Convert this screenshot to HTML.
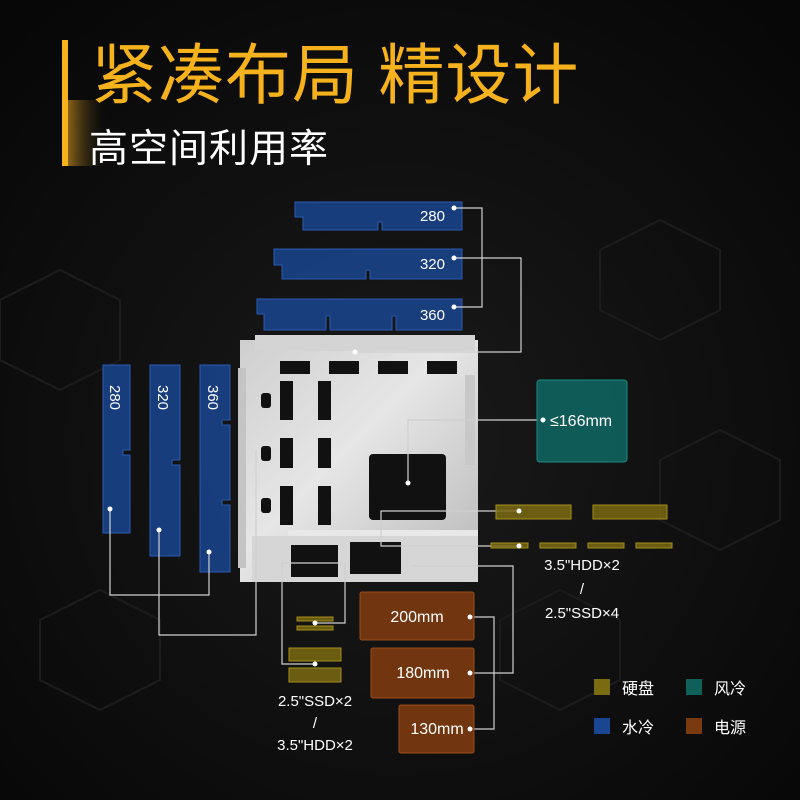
<!DOCTYPE html>
<html><head><meta charset="utf-8"><style>
html,body{margin:0;padding:0;background:#0b0b0b;}
svg{display:block}
text{font-family:"Liberation Sans","Noto Sans CJK SC",sans-serif;}
</style></head><body>
<svg width="800" height="800" viewBox="0 0 800 800" xmlns="http://www.w3.org/2000/svg">
<defs>
<radialGradient id="bg" cx="0.5" cy="0.55" r="0.7">
<stop offset="0" stop-color="#1a1a1a"/><stop offset="1" stop-color="#070707"/></radialGradient>
<linearGradient id="bar" x1="0" x2="1"><stop offset="0" stop-color="#8a6418"/><stop offset="1" stop-color="#111" stop-opacity="0"/></linearGradient>
<linearGradient id="case" x1="0" y1="0" x2="1" y2="1"><stop offset="0" stop-color="#cfcfcf"/><stop offset="0.45" stop-color="#e6e6e6"/><stop offset="1" stop-color="#b8b8b8"/></linearGradient>
</defs>
<rect width="800" height="800" fill="url(#bg)"/>
<g stroke="#1c1c1c" stroke-width="2" fill="none">
<path d="M0 300 L60 270 L120 300 L120 360 L60 390 L0 360Z M600 250 L660 220 L720 250 L720 310 L660 340 L600 310Z M660 460 L720 430 L780 460 L780 520 L720 550 L660 520Z M500 620 L560 590 L620 620 L620 680 L560 710 L500 680Z M40 620 L100 590 L160 620 L160 680 L100 710 L40 680Z"/>
</g>
<!-- title -->
<rect x="68" y="100" width="40" height="66" fill="url(#bar)"/>
<rect x="62" y="40" width="6" height="126" fill="#f6b21c"/>
<text x="91" y="98" font-size="66" fill="#f6b21c" letter-spacing="1">紧凑布局 精设计</text>
<text x="89" y="162" font-size="39" fill="#fff" letter-spacing="1">高空间利用率</text>

<!-- top radiators -->
<g fill="#1a4590" fill-opacity="0.85" stroke="#2a5ab0" stroke-width="1">
<path d="M295 202 H462 V230 H382 V222 H378 V230 H303 V217 H295Z"/>
<path d="M274 249 H462 V279 H370 V270 H366 V279 H282 V265 H274Z"/>
<path d="M257 299 H462 V330 H396 V316 H392 V330 H330 V316 H326 V330 H264 V314 H257Z"/>
</g>
<g fill="#fff" font-size="15" text-anchor="end">
<text x="445" y="221">280</text><text x="445" y="269">320</text><text x="445" y="320">360</text>
</g>

<!-- left vertical radiators -->
<g fill="#1a4590" fill-opacity="0.85" stroke="#2a5ab0" stroke-width="1">
<path d="M103 365 H130 V450 H123 V455 H130 V533 H103Z"/>
<path d="M150 365 H180 V460 H172 V465 H180 V556 H150Z"/>
<path d="M200 365 H230 V420 H222 V425 H230 V500 H222 V505 H230 V572 H200Z"/>
</g>
<g fill="#fff" font-size="15">
<text transform="translate(110 385) rotate(90)">280</text>
<text transform="translate(158 385) rotate(90)">320</text>
<text transform="translate(208 385) rotate(90)">360</text>
</g>

<!-- case -->
<rect x="240" y="340" width="238" height="242" fill="url(#case)"/>
<rect x="255" y="335" width="220" height="16" fill="#d4d4d4"/>
<rect x="238" y="368" width="8" height="200" fill="#c4c4c4"/>
<rect x="252" y="536" width="226" height="46" fill="#d6d6d6"/>
<g fill="#111">
<rect x="280" y="361" width="30" height="13"/><rect x="329" y="361" width="30" height="13"/><rect x="378" y="361" width="30" height="13"/><rect x="427" y="361" width="30" height="13"/>
<rect x="280" y="381" width="13" height="39"/><rect x="318" y="381" width="13" height="39"/>
<rect x="280" y="438" width="13" height="30"/><rect x="318" y="438" width="13" height="30"/>
<rect x="280" y="486" width="13" height="39"/><rect x="318" y="486" width="13" height="39"/>
<rect x="261" y="393" width="10" height="15" rx="3"/><rect x="261" y="446" width="10" height="15" rx="3"/><rect x="261" y="498" width="10" height="15" rx="3"/>
<rect x="369" y="454" width="77" height="66" rx="4"/>
<rect x="291" y="545" width="47" height="32"/>
<rect x="350" y="542" width="51" height="32"/>
</g>
<rect x="288" y="530" width="190" height="6" fill="#e8e8e8"/>
<rect x="465" y="375" width="10" height="90" fill="#c8c8c8"/>

<!-- connectors -->
<g stroke="#d0d0d0" stroke-width="1.2" fill="none">
<path d="M454 208 H482 V307 H454"/>
<path d="M355 352 H521 V258 H454"/>
<path d="M408 483 V420 H543"/>
<path d="M519 511 H381 V546 H519"/>
<path d="M110 509 V595 H209 V552"/>
<path d="M159 530 V635 H256 V450"/>
<path d="M315 623 H345 V563 H282 V664 H315"/>
<path d="M413 566 H513 V673 H470"/>
<path d="M470 617 H494 V729 H470"/>
</g>
<g fill="#fff">
<circle cx="454" cy="208" r="2.5"/><circle cx="454" cy="258" r="2.5"/><circle cx="454" cy="307" r="2.5"/>
<circle cx="355" cy="352" r="2.5"/><circle cx="408" cy="483" r="2.5"/>
<circle cx="110" cy="509" r="2.5"/><circle cx="159" cy="530" r="2.5"/><circle cx="209" cy="552" r="2.5"/>
</g>

<!-- fan box -->
<rect x="537" y="380" width="90" height="82" rx="3" fill="#0f5f5b" fill-opacity="0.95" stroke="#1c8a85"/>
<circle cx="543" cy="420" r="2.5" fill="#fff"/>
<text x="550" y="426" font-size="16" fill="#fff">≤166mm</text>

<!-- drives -->
<g fill="#7a6a12" fill-opacity="0.85" stroke="#a58e1c">
<rect x="496" y="505" width="75" height="14"/><rect x="593" y="505" width="74" height="14"/>
<rect x="491" y="543" width="37" height="5"/><rect x="540" y="543" width="36" height="5"/><rect x="588" y="543" width="36" height="5"/><rect x="636" y="543" width="36" height="5"/>
<rect x="297" y="617" width="36" height="4"/><rect x="297" y="626" width="36" height="4"/>
<rect x="289" y="648" width="52" height="13"/><rect x="289" y="668" width="52" height="14"/>
</g>
<g fill="#fff"><circle cx="519" cy="511" r="2.5"/><circle cx="519" cy="546" r="2.5"/><circle cx="315" cy="623" r="2.5"/><circle cx="315" cy="664" r="2.5"/></g>
<g fill="#fff" font-size="15" text-anchor="middle">
<text x="582" y="570">3.5"HDD×2</text><text x="582" y="594">/</text><text x="582" y="618">2.5"SSD×4</text>
<text x="315" y="706">2.5"SSD×2</text><text x="315" y="728">/</text><text x="315" y="750">3.5"HDD×2</text>
</g>

<!-- PSUs -->
<g fill="#7a3a10" fill-opacity="0.92" stroke="#9a4c18">
<rect x="360" y="592" width="114" height="48" rx="2"/>
<rect x="371" y="648" width="103" height="50" rx="2"/>
<rect x="399" y="705" width="75" height="48" rx="2"/>
</g>
<g fill="#fff"><circle cx="470" cy="617" r="2.5"/><circle cx="470" cy="673" r="2.5"/><circle cx="470" cy="729" r="2.5"/></g>
<g fill="#fff" font-size="16" text-anchor="middle">
<text x="417" y="622">200mm</text><text x="423" y="678">180mm</text><text x="437" y="734">130mm</text>
</g>

<!-- legend -->
<rect x="594" y="679" width="16" height="16" fill="#7a6a12"/>
<rect x="686" y="679" width="16" height="16" fill="#0f5f5b"/>
<rect x="594" y="718" width="16" height="16" fill="#1a4590"/>
<rect x="686" y="718" width="16" height="16" fill="#7a3a10"/>
<g fill="#fff" font-size="16">
<text x="622" y="694">硬盘</text><text x="714" y="694">风冷</text>
<text x="622" y="733">水冷</text><text x="714" y="733">电源</text>
</g>
</svg>
</body></html>
